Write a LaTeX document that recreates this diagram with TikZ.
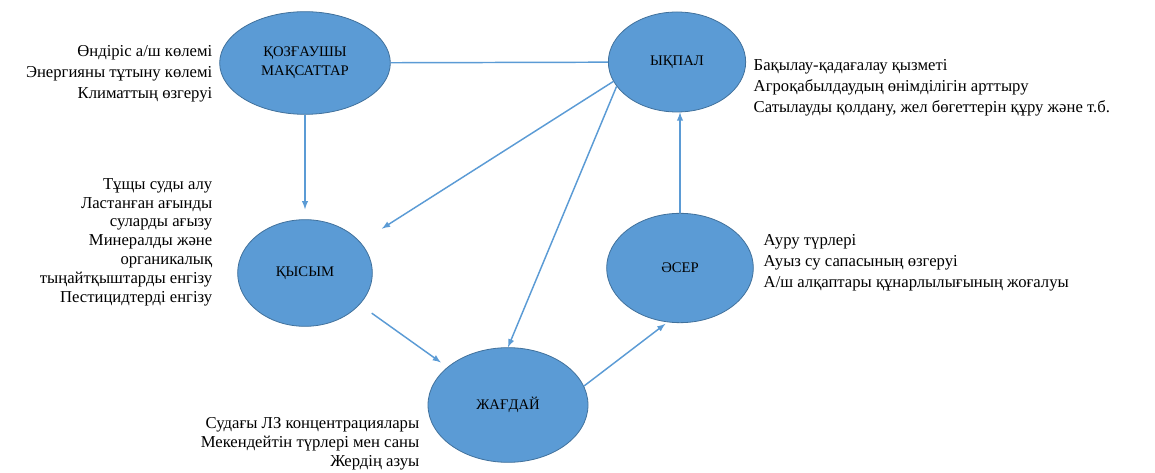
\documentclass[tikz,border=0pt]{standalone}
\usepackage{fontspec}
\setmainfont{LiberationSerif-Regular.ttf}
\usetikzlibrary{shapes.geometric}
\definecolor{nodeblue}{HTML}{5B9BD5}
\definecolor{nodeedge}{HTML}{41719C}
\definecolor{lineblue}{HTML}{5B9BD5}

\begin{document}
\begin{tikzpicture}[x=0.75pt,y=-0.75pt,>=latex,draw=lineblue,line width=1.1pt]
    \tikzstyle{block}=[ellipse,fill=nodeblue,draw=nodeedge,line width=0.6pt,inner sep=0pt,text=black,align=center,font=\rmfamily\fontsize{11}{14}\selectfont]
    \tikzstyle{annot}=[inner sep=0pt,text=black,font=\rmfamily\fontsize{12.5}{15.75}\selectfont]
    \tikzstyle{annot left}=[annot,anchor=east,align=right]
    \tikzstyle{annot right}=[annot,anchor=west,align=left]
    \tikzstyle{annot tight}=[annot left,font=\rmfamily\fontsize{12.5}{14.1}\selectfont]

    \useasboundingbox (0,0) rectangle (1155,473);

    % Draw the five blocks
    \node[block,minimum width=128pt,minimum height=77pt] (goals) at (305,63) {ҚОЗҒАУШЫ\\МАҚСАТТАР};
    \node[block,minimum width=103pt,minimum height=75pt] (impact) at (677,62) {ЫҚПАЛ};
    \node[block,minimum width=101pt,minimum height=80pt] (pressure) at (305,273) {ҚЫСЫМ};
    \node[block,minimum width=120pt,minimum height=86pt] (state) at (508,405) {ЖАҒДАЙ};
    \node[block,minimum width=110pt,minimum height=82pt] (effect) at (680,268) {ӘСЕР};

    % Annotate the blocks
    \node[annot left] (goals-t) at (213,74) {Өндіріс а/ш көлемі\\Энергияны тұтыну көлемі\\Климаттың өзгеруі};
    \node[annot right] (impact-t) at (753,88) {Бақылау-қадағалау қызметі\\Агроқабылдаудың өнімділігін арттыру\\Сатылауды қолдану, жел бөгеттерін құру және т.б.};
    \node[annot tight] (pressure-t) at (213,242) {Тұщы суды алу\\Ластанған ағынды\\суларды ағызу\\Минералды және\\органикалық\\тыңайтқыштарды енгізу\\Пестицидтерді енгізу};
    \node[annot right] (effect-t) at (763,263) {Ауру түрлері\\Ауыз су сапасының өзгеруі\\А/ш алқаптары құнарлылығының жоғалуы};
    \node[annot tight] (state-t) at (420,444) {Судағы ЛЗ концентрациялары\\Мекендейтін түрлері мен саны\\Жердің азуы};

    % Connect the blocks
    \draw (goals) -- (impact);
    \foreach \source/\dest/\gap in {goals.south/pressure.north/7.5,impact.197/pressure.29/19,impact.202/state.north/0,state.14/effect.257/2}
        \draw[->,shorten >=\gap pt] (\source) -- (\dest);
    \draw[->,shorten <=11pt,shorten >=6pt] (pressure.330) -- (state.148);
    \draw[->] (effect.north) -- (effect.north |- impact.south);
\end{tikzpicture}
\end{document}
